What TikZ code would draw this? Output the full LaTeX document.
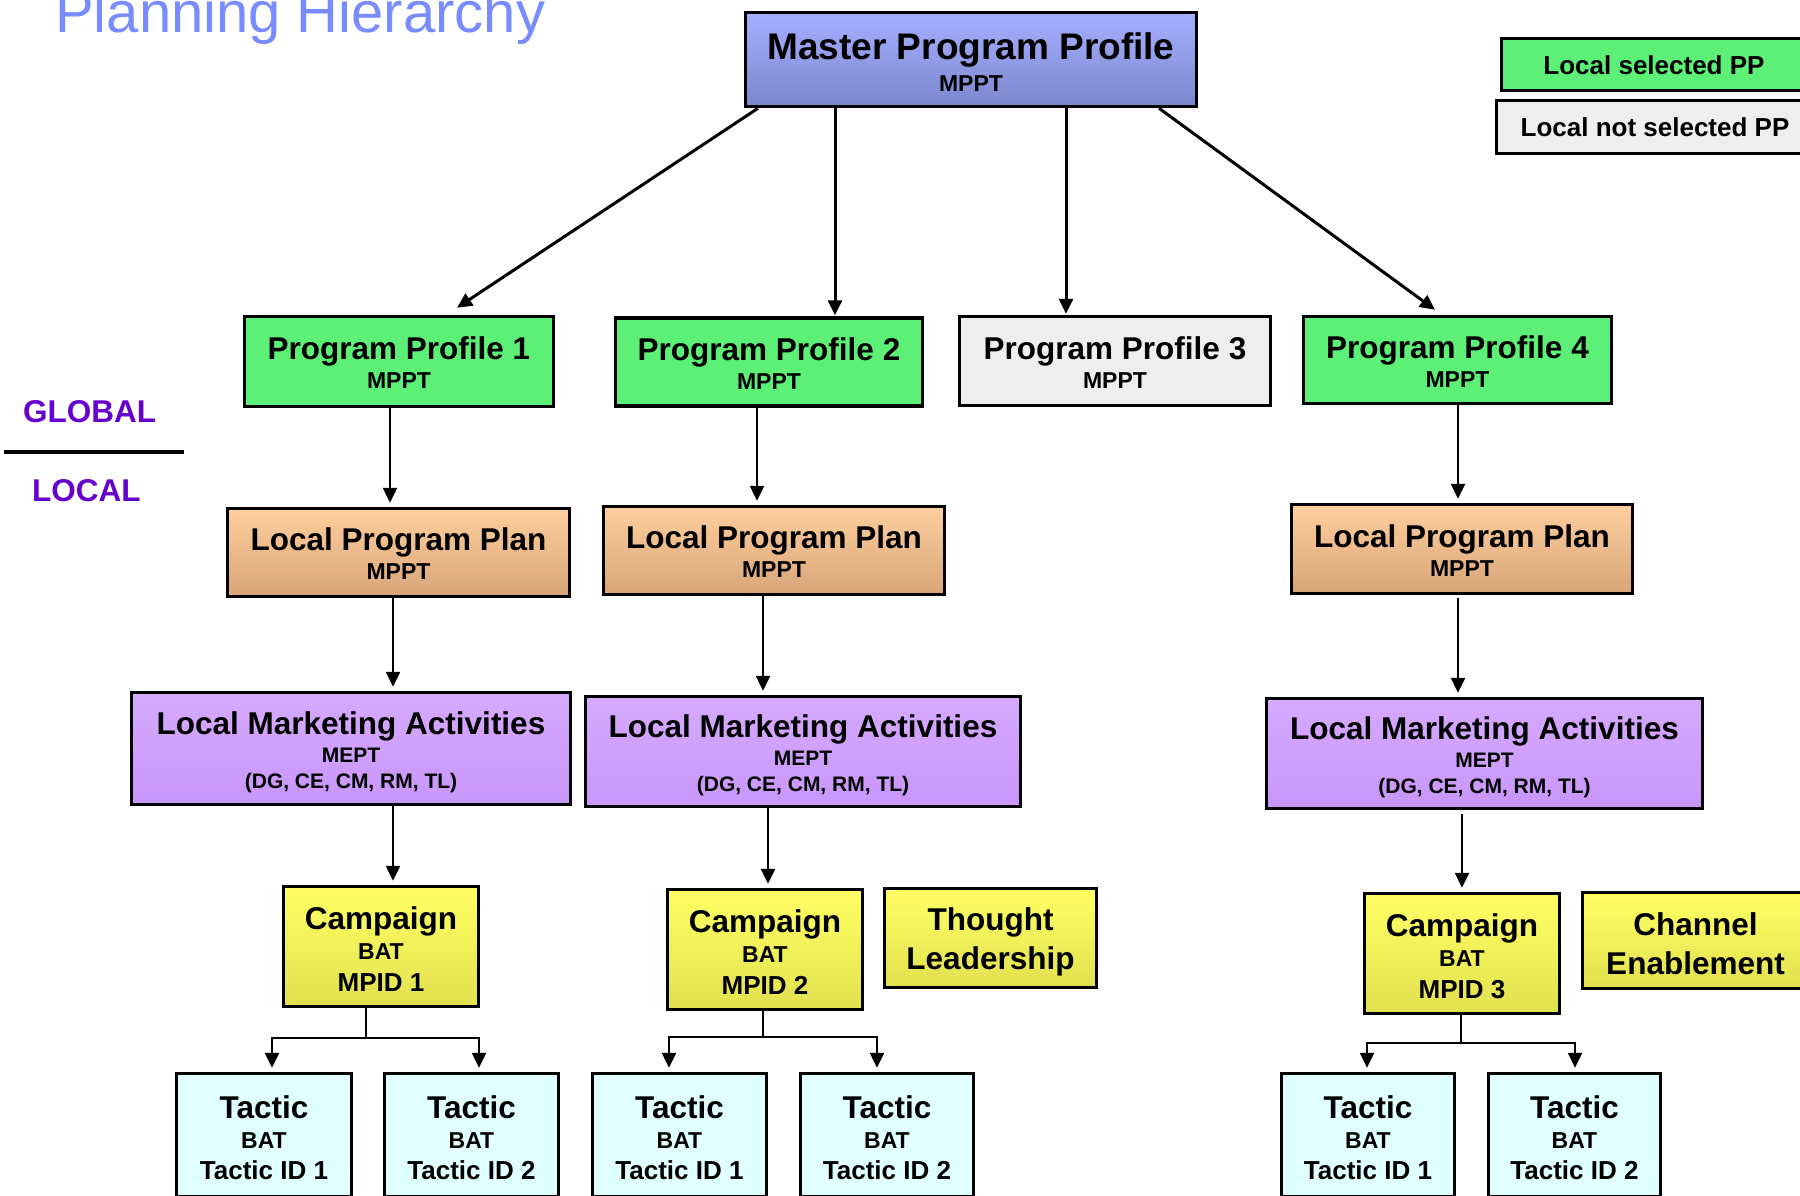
\documentclass[tikz,border=0pt]{standalone}
\usepackage{fontspec}
\setmainfont{Liberation Sans}
\usetikzlibrary{arrows.meta,calc}

\definecolor{titleblue}{RGB}{120,140,255}
\definecolor{lblc}{RGB}{102,0,204}
\definecolor{mtop}{RGB}{165,175,255}
\definecolor{mbot}{RGB}{125,135,205}
\definecolor{ppg}{RGB}{92,240,118}
\definecolor{gry}{RGB}{238,238,238}
\definecolor{otop}{RGB}{255,206,158}
\definecolor{obot}{RGB}{215,165,120}
\definecolor{ptop}{RGB}{214,170,255}
\definecolor{pbot}{RGB}{200,150,250}
\definecolor{ytop}{RGB}{255,255,100}
\definecolor{ybot}{RGB}{225,225,80}
\definecolor{cyn}{RGB}{224,255,255}

\newcommand\subtxt[1]{{\fontsize{23}{23}\selectfont #1}}
\newcommand\smtxt[1]{{\fontsize{21}{21}\selectfont #1}}
\newcommand\idtxt[1]{{\fontsize{26}{26}\selectfont #1}}
\newcommand\tstrut[1]{\rule{0pt}{#1pt}}

\begin{document}
\begin{tikzpicture}[x=1pt,y=-1pt,
  box/.style={draw=black, line width=3.5pt, inner sep=0pt, align=center,
    font=\fontsize{31.5}{29}\selectfont\bfseries},
  green/.style={box, fill=ppg},
  grey/.style={box, fill=gry},
  master/.style={box, top color=mtop, bottom color=mbot, font=\fontsize{37}{32}\selectfont\bfseries},
  orange/.style={box, top color=otop, bottom color=obot},
  purple/.style={box, top color=ptop, bottom color=pbot, font=\fontsize{31.5}{28}\selectfont\bfseries},
  yellow/.style={box, top color=ytop, bottom color=ybot, font=\fontsize{31.5}{30}\selectfont\bfseries},
  thought/.style={box, top color=ytop, bottom color=ybot, font=\fontsize{31.5}{39}\selectfont\bfseries},
  tactic/.style={box, fill=cyn, font=\fontsize{31.5}{30}\selectfont\bfseries},
  legend/.style={box, font=\fontsize{26}{26}\selectfont\bfseries},
  lbltext/.style={text=lblc, inner sep=0pt, font=\fontsize{31.5}{32}\selectfont\bfseries},
  arr/.style={line width=2.5pt, -{Triangle[length=15pt,width=14pt]}, shorten >=4pt},
  arrT/.style={line width=3pt, -{Triangle[length=15pt,width=14pt]}}
]
\path[use as bounding box, clip] (0,0) rectangle (1800,1196);
\fill[white] (0,0) rectangle (1800,1196);

% title
\node[anchor=base west, inner sep=0pt, text=titleblue, font=\fontsize{58}{60}\selectfont] (title) at (55,33) {Planning Hierarchy};

% GLOBAL / LOCAL
\node[lbltext, anchor=base west] (glob) at (23,422) {GLOBAL};
\node[lbltext, anchor=base west] (loc) at (32,501) {LOCAL};
\coordinate (gl1) at (4,452);
\coordinate (gl2) at (184,452);
\draw[line width=4pt] (gl1) -- (gl2);

% legend
\node[legend, fill=ppg, minimum width=305, minimum height=52] (leg1) at (1654,64.5) {\tstrut{20}Local selected PP};
\node[legend, fill=gry, minimum width=317, minimum height=53] (leg2) at (1655,127) {\tstrut{20}Local not selected PP};

% master
\node[master, minimum width=451, minimum height=94] (master) at (971,59.5) {\tstrut{31.6}Master Program Profile\\\subtxt{MPPT}};

% program profiles
\node[green, minimum width=309, minimum height=90] (pp1) at (399,361.5) {\tstrut{25.4}Program Profile 1\\\subtxt{MPPT}};
\node[green, minimum width=307, minimum height=88] (pp2) at (769,362) {\tstrut{25.4}Program Profile 2\\\subtxt{MPPT}};
\node[grey, minimum width=311, minimum height=89] (pp3) at (1115,361) {\tstrut{25.4}Program Profile 3\\\subtxt{MPPT}};
\node[green, minimum width=308, minimum height=87] (pp4) at (1457.5,360) {\tstrut{25.4}Program Profile 4\\\subtxt{MPPT}};

% local program plans
\node[orange, minimum width=342, minimum height=88] (lpp1) at (398.5,552.5) {\tstrut{25.4}Local Program Plan\\\subtxt{MPPT}};
\node[orange, minimum width=341, minimum height=88] (lpp2) at (774,550.5) {\tstrut{25.4}Local Program Plan\\\subtxt{MPPT}};
\node[orange, minimum width=341, minimum height=89] (lpp4) at (1462,549) {\tstrut{25.4}Local Program Plan\\\subtxt{MPPT}};

% local marketing activities
\node[purple, minimum width=439, minimum height=112] (lma1) at (351,748.5) {\tstrut{30}Local Marketing Activities\\\smtxt{MEPT}\\[-2pt]\smtxt{(DG, CE, CM, RM, TL)}};
\node[purple, minimum width=435, minimum height=110] (lma2) at (803,751.5) {\tstrut{30}Local Marketing Activities\\\smtxt{MEPT}\\[-2pt]\smtxt{(DG, CE, CM, RM, TL)}};
\node[purple, minimum width=436, minimum height=110] (lma4) at (1484.5,753.5) {\tstrut{30}Local Marketing Activities\\\smtxt{MEPT}\\[-2pt]\smtxt{(DG, CE, CM, RM, TL)}};

% campaigns
\node[yellow, minimum width=195, minimum height=120] (camp1) at (381,946.5) {\tstrut{28.6}Campaign\\\subtxt{BAT}\\[2pt]\idtxt{MPID 1}};
\node[yellow, minimum width=195, minimum height=120] (camp2) at (765,949.5) {\tstrut{28.6}Campaign\\\subtxt{BAT}\\[2pt]\idtxt{MPID 2}};
\node[thought, minimum width=212, minimum height=99] (tl) at (990.5,938) {\tstrut{30}Thought\\Leadership};
\node[yellow, minimum width=195, minimum height=120] (camp3) at (1462,953.5) {\tstrut{28.6}Campaign\\\subtxt{BAT}\\[2pt]\idtxt{MPID 3}};
\node[thought, minimum width=226, minimum height=96] (ce) at (1695.5,940.5) {\tstrut{29}Channel\\Enablement};

% tactics
\node[tactic, minimum width=175, minimum height=123] (t1) at (264,1135) {\tstrut{27.6}Tactic\\\subtxt{BAT}\\[1pt]\idtxt{Tactic ID 1}};
\node[tactic, minimum width=174, minimum height=123] (t2) at (471.5,1135) {\tstrut{27.6}Tactic\\\subtxt{BAT}\\[1pt]\idtxt{Tactic ID 2}};
\node[tactic, minimum width=174, minimum height=123] (t3) at (679.5,1135) {\tstrut{27.6}Tactic\\\subtxt{BAT}\\[1pt]\idtxt{Tactic ID 1}};
\node[tactic, minimum width=173, minimum height=123] (t4) at (887,1135) {\tstrut{27.6}Tactic\\\subtxt{BAT}\\[1pt]\idtxt{Tactic ID 2}};
\node[tactic, minimum width=173, minimum height=123] (t5) at (1368,1135) {\tstrut{27.6}Tactic\\\subtxt{BAT}\\[1pt]\idtxt{Tactic ID 1}};
\node[tactic, minimum width=172, minimum height=123] (t6) at (1574.5,1135) {\tstrut{27.6}Tactic\\\subtxt{BAT}\\[1pt]\idtxt{Tactic ID 2}};

% arrows from master
\draw[arrT] ([xshift=-213]master.south) -- ([xshift=58,yshift=7]pp1.north);
\draw[arrT] ([xshift=-136]master.south) -- ([xshift=66,yshift=1]pp2.north);
\draw[arrT] ([xshift=95]master.south) -- ([xshift=-49,yshift=1]pp3.north);
\draw[arrT] ([xshift=188]master.south) -- ([xshift=-22.5,yshift=5]pp4.north);

% column coordinates
\coordinate (xa1) at (390,0);
\coordinate (xa2) at (393,0);
\coordinate (xb1) at (757,0);
\coordinate (xb2) at (763,0);
\coordinate (xb3) at (768,0);
\coordinate (xd1) at (1458,0);
\coordinate (xd2) at (1462,0);

\draw[arr] (pp1.south -| xa1) -- (lpp1.north -| xa1);
\draw[arr] (lpp1.south -| xa2) -- (lma1.north -| xa2);
\draw[arr] (lma1.south -| xa2) -- (camp1.north -| xa2);

\draw[arr] (pp2.south -| xb1) -- (lpp2.north -| xb1);
\draw[arr] (lpp2.south -| xb2) -- (lma2.north -| xb2);
\draw[arr] (lma2.south -| xb3) -- (camp2.north -| xb3);

\draw[arr] (pp4.south -| xd1) -- (lpp4.north -| xd1);
\draw[arr] ([yshift=-3]lpp4.south -| xd1) -- (lma4.north -| xd1);
\draw[arr] ([yshift=-4]lma4.south -| xd2) -- (camp3.north -| xd2);

% branches to tactics
\coordinate (j1) at (366,1038);
\coordinate (d1a) at (272,1038);
\coordinate (d1b) at (479,1038);
\draw[arr] (camp1.south -| j1) |- (d1a) -- (t1.north -| d1a);
\draw[arr] (camp1.south -| j1) |- (d1b) -- (t2.north -| d1b);

\coordinate (j2) at (763,1037);
\coordinate (d2a) at (669,1037);
\coordinate (d2b) at (877,1037);
\draw[arr] (camp2.south -| j2) |- (d2a) -- (t3.north -| d2a);
\draw[arr] (camp2.south -| j2) |- (d2b) -- (t4.north -| d2b);

\coordinate (j3) at (1461,1043);
\coordinate (d3a) at (1367,1043);
\coordinate (d3b) at (1575,1043);
\draw[arr] (camp3.south -| j3) |- (d3a) -- (t5.north -| d3a);
\draw[arr] (camp3.south -| j3) |- (d3b) -- (t6.north -| d3b);

\end{tikzpicture}
\end{document}
